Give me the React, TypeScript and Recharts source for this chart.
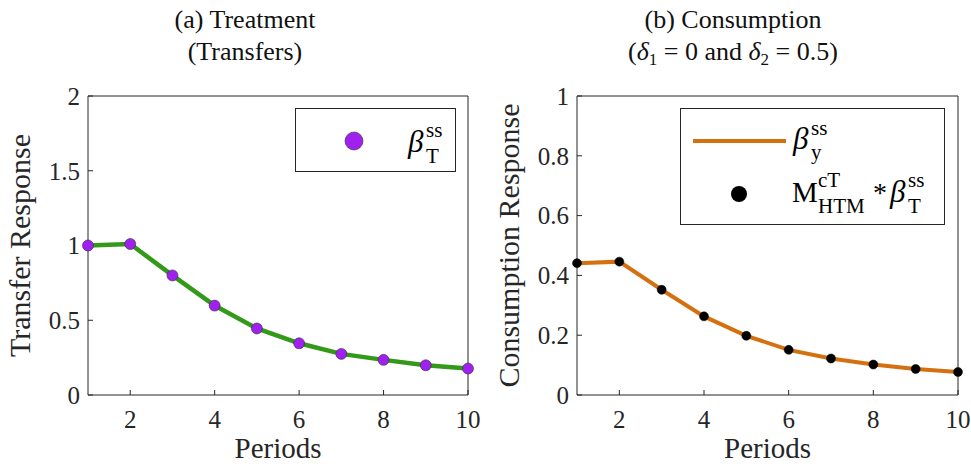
import React from "react";
import { LineChart, Line, XAxis, YAxis, Legend } from "recharts";

const periods = [1, 2, 3, 4, 5, 6, 7, 8, 9, 10];
const transfers = [1.0, 1.01, 0.8, 0.598, 0.445, 0.346, 0.275, 0.235, 0.199, 0.177];
const consumption = [0.441, 0.446, 0.352, 0.263, 0.198, 0.151, 0.122, 0.102, 0.087, 0.077];
const htmTransfers = [0.441, 0.446, 0.352, 0.263, 0.198, 0.151, 0.122, 0.102, 0.087, 0.077];

const periodTicks = [2, 4, 6, 8, 10];
const transferTicks = [0, 0.5, 1, 1.5, 2];
const consumptionTicks = [0, 0.2, 0.4, 0.6, 0.8, 1];

const transferData = periods.map((p, i) => ({ period: p, transfers: transfers[i] }));
const consumptionData = periods.map((p, i) => ({
  period: p,
  consumption: consumption[i],
  htm: htmTransfers[i],
}));

const serif = "Liberation Serif, Times New Roman, serif";
const axisColor = "#262626";
const tickStyle = { fill: axisColor, fontSize: 25, fontFamily: serif };

function YTitle({ viewBox, value }: any) {
  const cx = viewBox.x + viewBox.width - 69;
  const cy = viewBox.y + viewBox.height / 2;
  return (
    <text
      x={cx}
      y={cy}
      transform={`rotate(-90, ${cx}, ${cy})`}
      textAnchor="middle"
      dominantBaseline="central"
      fontFamily={serif}
      fontSize={30}
      fill={axisColor}
    >
      {value}
    </text>
  );
}

function XTitle({ viewBox }: any) {
  return (
    <text
      x={viewBox.x + viewBox.width / 2}
      y={viewBox.y + 63}
      textAnchor="middle"
      fontFamily={serif}
      fontSize={29}
      fill={axisColor}
    >
      Periods
    </text>
  );
}

function TransferLegend() {
  return (
    <svg width={162} height={65} style={{ display: "block" }}>
      <rect x={0.5} y={0.5} width={160} height={63} fill="#fff" stroke={axisColor} />
      <circle cx={59} cy={33} r={9} fill="#a020f0" stroke="#333" strokeWidth={0.6} />
      <text fontFamily={serif} fill="#000">
        <tspan x={113} y={44} fontSize={31} fontStyle="italic">β</tspan>
        <tspan x={131} y={29} fontSize={21}>ss</tspan>
        <tspan x={131} y={55} fontSize={21}>T</tspan>
      </text>
    </svg>
  );
}

function ConsumptionLegend() {
  return (
    <svg width={266} height={118} style={{ display: "block" }}>
      <rect x={0.5} y={0.5} width={264} height={116} fill="#fff" stroke={axisColor} />
      <line x1={13} x2={106} y1={33} y2={33} stroke="#d4700f" strokeWidth={4} />
      <circle cx={59} cy={86} r={8} fill="#000" />
      <text fontFamily={serif} fill="#000">
        <tspan x={113} y={41} fontSize={31} fontStyle="italic">β</tspan>
        <tspan x={131} y={27} fontSize={21}>ss</tspan>
        <tspan x={131} y={51} fontSize={21}>y</tspan>
      </text>
      <text fontFamily={serif} fill="#000">
        <tspan x={112} y={94} fontSize={29}>M</tspan>
        <tspan x={138} y={79} fontSize={21}>cT</tspan>
        <tspan x={138} y={105} fontSize={21}>HTM</tspan>
        <tspan x={193} y={94} fontSize={28}>*</tspan>
        <tspan x={210} y={94} fontSize={31} fontStyle="italic">β</tspan>
        <tspan x={228} y={79} fontSize={21}>ss</tspan>
        <tspan x={228} y={105} fontSize={21}>T</tspan>
      </text>
    </svg>
  );
}

function Titles() {
  return (
    <svg
      width={971}
      height={80}
      style={{ position: "absolute", left: 0, top: 0, pointerEvents: "none" }}
    >
      <g fontFamily={serif} fontSize={26} fill="#111" textAnchor="middle">
        <text x={245} y={28}>(a) Treatment</text>
        <text x={245} y={60}>(Transfers)</text>
        <text x={733} y={28}>(b) Consumption</text>
        <text x={733} y={60}>
          (<tspan fontStyle="italic">δ</tspan>
          <tspan fontSize={17} dy={5}>1</tspan>
          <tspan dy={-5}> = 0 and </tspan>
          <tspan fontStyle="italic">δ</tspan>
          <tspan fontSize={17} dy={5}>2</tspan>
          <tspan dy={-5}> = 0.5)</tspan>
        </text>
      </g>
    </svg>
  );
}

export default function App() {
  return (
    <div style={{ position: "absolute", left: 0, top: 0, width: 971, height: 467, background: "#fff" }}>
      <div style={{ position: "absolute", left: 0, top: 0 }}>
        <LineChart
          width={480}
          height={467}
          data={transferData}
          margin={{ top: 96, right: 12, bottom: 71, left: 87 }}
        >
          <XAxis
            dataKey="period"
            type="number"
            domain={[1, 10]}
            ticks={periodTicks}
            interval={0}
            height={1}
            tickSize={-5}
            tickMargin={20}
            tick={tickStyle}
            axisLine={{ stroke: axisColor }}
            tickLine={{ stroke: axisColor }}
            label={<XTitle />}
          />
          <XAxis
            xAxisId="top"
            dataKey="period"
            type="number"
            orientation="top"
            mirror
            domain={[1, 10]}
            ticks={periodTicks}
            interval={0}
            height={1}
            tickSize={5}
            tick={false}
            axisLine={{ stroke: axisColor }}
            tickLine={{ stroke: axisColor }}
          />
          <YAxis
            type="number"
            domain={[0, 2]}
            ticks={transferTicks}
            interval={0}
            width={1}
            tickSize={-5}
            tickMargin={13}
            tick={tickStyle}
            axisLine={{ stroke: axisColor }}
            tickLine={{ stroke: axisColor }}
            allowDataOverflow
            label={<YTitle value="Transfer Response" />}
          />
          <YAxis
            yAxisId="right"
            type="number"
            orientation="right"
            mirror
            domain={[0, 2]}
            ticks={transferTicks}
            interval={0}
            width={1}
            tickSize={5}
            tick={false}
            axisLine={{ stroke: axisColor }}
            tickLine={{ stroke: axisColor }}
          />
          <Legend
            layout="vertical"
            align="center"
            verticalAlign="middle"
            content={() => <TransferLegend />}
            wrapperStyle={{ position: "absolute", left: 295, top: 108, width: 162, height: 65 }}
          />
          <Line
            dataKey="transfers"
            stroke="#339a19"
            strokeWidth={4.5}
            dot={{ r: 5.5, fill: "#a020f0", stroke: "#333", strokeWidth: 0.6 }}
            isAnimationActive={false}
          />
        </LineChart>
      </div>
      <div style={{ position: "absolute", left: 490, top: 0 }}>
        <LineChart
          width={481}
          height={467}
          data={consumptionData}
          margin={{ top: 96, right: 13, bottom: 71, left: 86 }}
        >
          <XAxis
            dataKey="period"
            type="number"
            domain={[1, 10]}
            ticks={periodTicks}
            interval={0}
            height={1}
            tickSize={-5}
            tickMargin={20}
            tick={tickStyle}
            axisLine={{ stroke: axisColor }}
            tickLine={{ stroke: axisColor }}
            label={<XTitle />}
          />
          <XAxis
            xAxisId="top"
            dataKey="period"
            type="number"
            orientation="top"
            mirror
            domain={[1, 10]}
            ticks={periodTicks}
            interval={0}
            height={1}
            tickSize={5}
            tick={false}
            axisLine={{ stroke: axisColor }}
            tickLine={{ stroke: axisColor }}
          />
          <YAxis
            type="number"
            domain={[0, 1]}
            ticks={consumptionTicks}
            interval={0}
            width={1}
            tickSize={-5}
            tickMargin={13}
            tick={tickStyle}
            axisLine={{ stroke: axisColor }}
            tickLine={{ stroke: axisColor }}
            allowDataOverflow
            label={<YTitle value="Consumption Response" />}
          />
          <YAxis
            yAxisId="right"
            type="number"
            orientation="right"
            mirror
            domain={[0, 1]}
            ticks={consumptionTicks}
            interval={0}
            width={1}
            tickSize={5}
            tick={false}
            axisLine={{ stroke: axisColor }}
            tickLine={{ stroke: axisColor }}
          />
          <Legend
            layout="vertical"
            align="center"
            verticalAlign="middle"
            content={() => <ConsumptionLegend />}
            wrapperStyle={{ position: "absolute", left: 190, top: 108, width: 266, height: 118 }}
          />
          <Line
            dataKey="consumption"
            stroke="#d4700f"
            strokeWidth={4}
            dot={false}
            isAnimationActive={false}
          />
          <Line
            dataKey="htm"
            stroke="none"
            dot={{ r: 4.5, fill: "#000", stroke: "#000", strokeWidth: 0.5 }}
            isAnimationActive={false}
          />
        </LineChart>
      </div>
      <Titles />
    </div>
  );
}
